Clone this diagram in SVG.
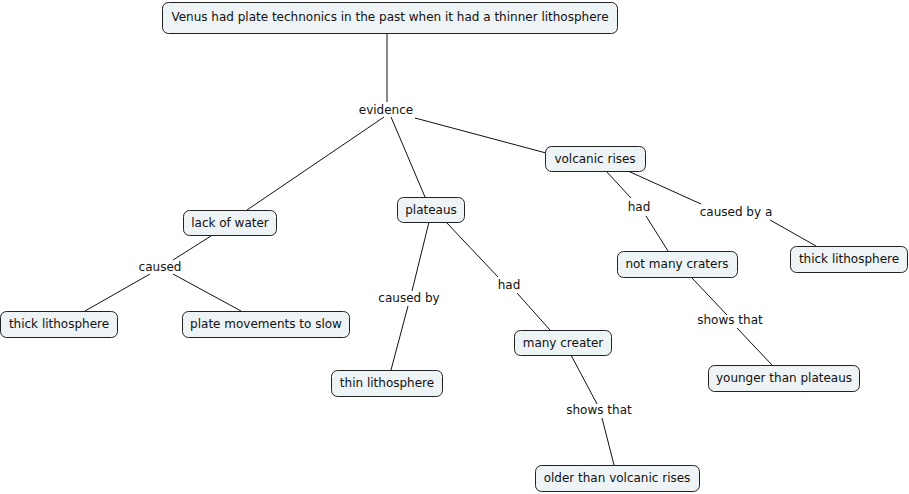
<svg xmlns="http://www.w3.org/2000/svg" width="909" height="494" viewBox="0 0 909 494">
<style>
.n rect{fill:#eef3f5;stroke:#222;stroke-width:1}
text{font-family:"DejaVu Sans",Verdana,sans-serif;font-size:12px;fill:#111;text-anchor:middle;dominant-baseline:central}
.c line{stroke:#111;stroke-width:1}
</style>
<rect width="909" height="494" fill="#fff"/>
<g class="c">
<line x1="387" y1="33" x2="387" y2="102"/>
<line x1="384" y1="117" x2="247" y2="210"/>
<line x1="391" y1="117" x2="425" y2="197"/>
<line x1="415" y1="118" x2="546" y2="153"/>
<line x1="211" y1="236" x2="173" y2="260"/>
<line x1="150" y1="274" x2="85" y2="311"/>
<line x1="173" y1="274" x2="241" y2="311"/>
<line x1="429" y1="222" x2="412" y2="291"/>
<line x1="408" y1="306" x2="391" y2="370"/>
<line x1="446" y1="222" x2="498" y2="277"/>
<line x1="517" y1="293" x2="550" y2="330"/>
<line x1="571" y1="355" x2="597" y2="404"/>
<line x1="602" y1="418" x2="614" y2="465"/>
<line x1="606" y1="171" x2="631" y2="198"/>
<line x1="646" y1="216" x2="668" y2="251"/>
<line x1="628" y1="171" x2="701" y2="204"/>
<line x1="770" y1="220" x2="816" y2="246"/>
<line x1="692" y1="278" x2="727" y2="315"/>
<line x1="737" y1="328" x2="772" y2="365"/>
</g>
<g id="root" class="n"><rect x="162.5" y="2.5" width="455" height="31" rx="6"/><text x="390" y="17">Venus had plate technonics in the past when it had a thinner lithosphere</text></g>
<g id="l-evidence"><text x="386" y="110">evidence</text></g>
<g id="volcanic" class="n"><rect x="545.5" y="146.5" width="100" height="25" rx="6"/><text x="595" y="159">volcanic rises</text></g>
<g id="lack" class="n"><rect x="183.5" y="210.5" width="93" height="25" rx="6"/><text x="230" y="223">lack of water</text></g>
<g id="plateaus" class="n"><rect x="397.5" y="197.5" width="67" height="25" rx="6"/><text x="431" y="210">plateaus</text></g>
<g id="l-caused"><text x="160" y="267">caused</text></g>
<g id="thick1" class="n"><rect x="0.5" y="311.5" width="117" height="26" rx="6"/><text x="59" y="324">thick lithosphere</text></g>
<g id="plate" class="n"><rect x="182.5" y="311.5" width="167" height="26" rx="6"/><text x="266" y="324">plate movements to slow</text></g>
<g id="l-causedby"><text x="409" y="298">caused by</text></g>
<g id="l-had1"><text x="509" y="285">had</text></g>
<g id="thin" class="n"><rect x="331.5" y="370.5" width="111" height="26" rx="6"/><text x="387" y="383">thin lithosphere</text></g>
<g id="many" class="n"><rect x="514.5" y="330.5" width="97" height="25" rx="6"/><text x="563" y="343">many creater</text></g>
<g id="l-shows1"><text x="599" y="410">shows that</text></g>
<g id="older" class="n"><rect x="535.5" y="465.5" width="164" height="26" rx="6"/><text x="617" y="478">older than volcanic rises</text></g>
<g id="l-had2"><text x="639" y="207">had</text></g>
<g id="l-causedbya"><text x="736" y="212">caused by a</text></g>
<g id="thick2" class="n"><rect x="790.5" y="246.5" width="117" height="26" rx="6"/><text x="849" y="259">thick lithosphere</text></g>
<g id="notmany" class="n"><rect x="617.5" y="251.5" width="120" height="26" rx="6"/><text x="677" y="264">not many craters</text></g>
<g id="l-shows2"><text x="730" y="320">shows that</text></g>
<g id="younger" class="n"><rect x="708.5" y="365.5" width="151" height="26" rx="6"/><text x="784" y="378">younger than plateaus</text></g>
</svg>
